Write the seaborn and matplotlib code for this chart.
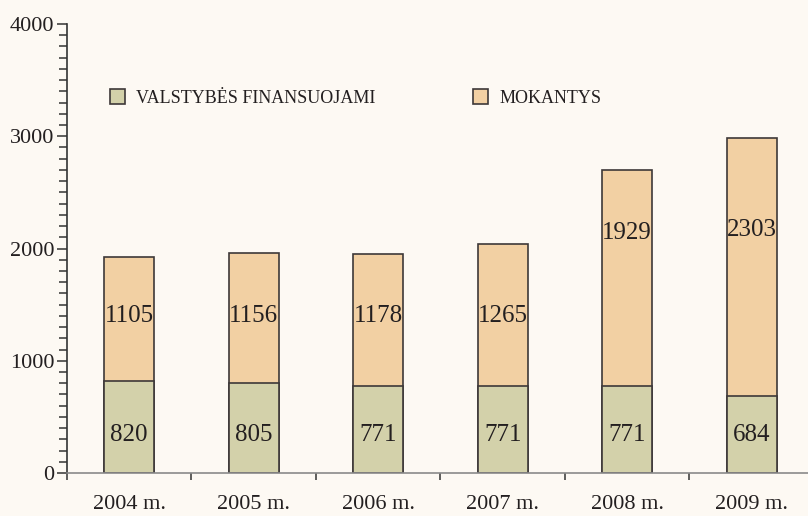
# ===================== IMPORTS =====================
import pandas as pd
import seaborn as sns
import matplotlib.pyplot as plt
from matplotlib.patches import Patch
from matplotlib.ticker import MultipleLocator, FixedLocator

sns.set_style("ticks")
plt.rcParams["font.family"] = ["Liberation Serif", "DejaVu Serif"]

# ===================== DATA =====================
years = ["2004 m.", "2005 m.", "2006 m.", "2007 m.", "2008 m.", "2009 m."]
state_funded = [820, 805, 771, 771, 771, 684]
paying = [1105, 1156, 1178, 1265, 1929, 2303]
series_names = ["VALSTYBĖS FINANSUOJAMI", "MOKANTYS"]

# label heights (read off the picture, not centred in the segments)
bottom_label_y = [335, 335, 335, 335, 335, 335]
top_label_y = [1399, 1399, 1399, 1399, 2135, 2165]

df = pd.DataFrame({"Year": years, "State": state_funded, "Paying": paying})
df["Total"] = df["State"] + df["Paying"]

# ===================== STYLE =====================
bg = "#fdf9f3"
col_state = "#d3d1aa"
col_paying = "#f2d0a3"
edge = "#3d3838"
txt = "#231f20"

# ===================== PLOT =====================
fig = plt.figure(figsize=(8.08, 5.16), dpi=100, facecolor=bg)
ax = fig.add_axes([67 / 808, 43 / 516, 741 / 808, 449 / 516])
ax.set_facecolor(bg)

sns.barplot(data=df, x="Year", y="Total", color=col_paying, width=0.4,
            edgecolor=edge, linewidth=1.2, saturation=1, ax=ax)
sns.barplot(data=df, x="Year", y="State", color=col_state, width=0.4,
            edgecolor=edge, linewidth=1.2, saturation=1, ax=ax)

for i in range(len(years)):
    ax.text(i, bottom_label_y[i], str(state_funded[i]), ha="center",
            va="center", fontsize=18, color=txt)
    ax.text(i, top_label_y[i], str(paying[i]), ha="center",
            va="center", fontsize=18, color=txt)

# axes
ax.set_ylim(0, 4000)
ax.set_xlim(-0.5, 5.452)
ax.yaxis.set_major_locator(MultipleLocator(1000))
ax.yaxis.set_minor_locator(MultipleLocator(100))
ax.tick_params(axis="y", which="major", length=7, width=1.1, color="#333333",
               labelsize=16, pad=2, labelcolor=txt)
ax.tick_params(axis="y", which="minor", length=6, width=1.1, color="#333333")

ax.xaxis.set_minor_locator(FixedLocator([i - 0.5 for i in range(len(years) + 1)]))
ax.tick_params(axis="x", which="major", length=0, labelsize=16, pad=16,
               labelcolor=txt)
ax.tick_params(axis="x", which="minor", length=5, width=1.1, color="#333333")

ax.set_xlabel("")
ax.set_ylabel("")
sns.despine(ax=ax)
ax.spines["left"].set_color("#333333")
ax.spines["bottom"].set_color("#8a8a8a")
ax.spines["left"].set_linewidth(1.2)
ax.spines["bottom"].set_linewidth(1.2)

# ===================== LEGEND =====================
handles = [Patch(facecolor=col_state, edgecolor=edge, linewidth=1.2),
           Patch(facecolor=col_paying, edgecolor=edge, linewidth=1.2)]
leg = ax.legend(handles, series_names, loc="center left",
                bbox_to_anchor=(0.036, 0.835), ncol=2, frameon=False,
                fontsize=13, handlelength=0.85, handleheight=0.9,
                handletextpad=0.6, columnspacing=5.4)
for t in leg.get_texts():
    t.set_color(txt)

fig.savefig("out.png", dpi=100, facecolor=bg)
